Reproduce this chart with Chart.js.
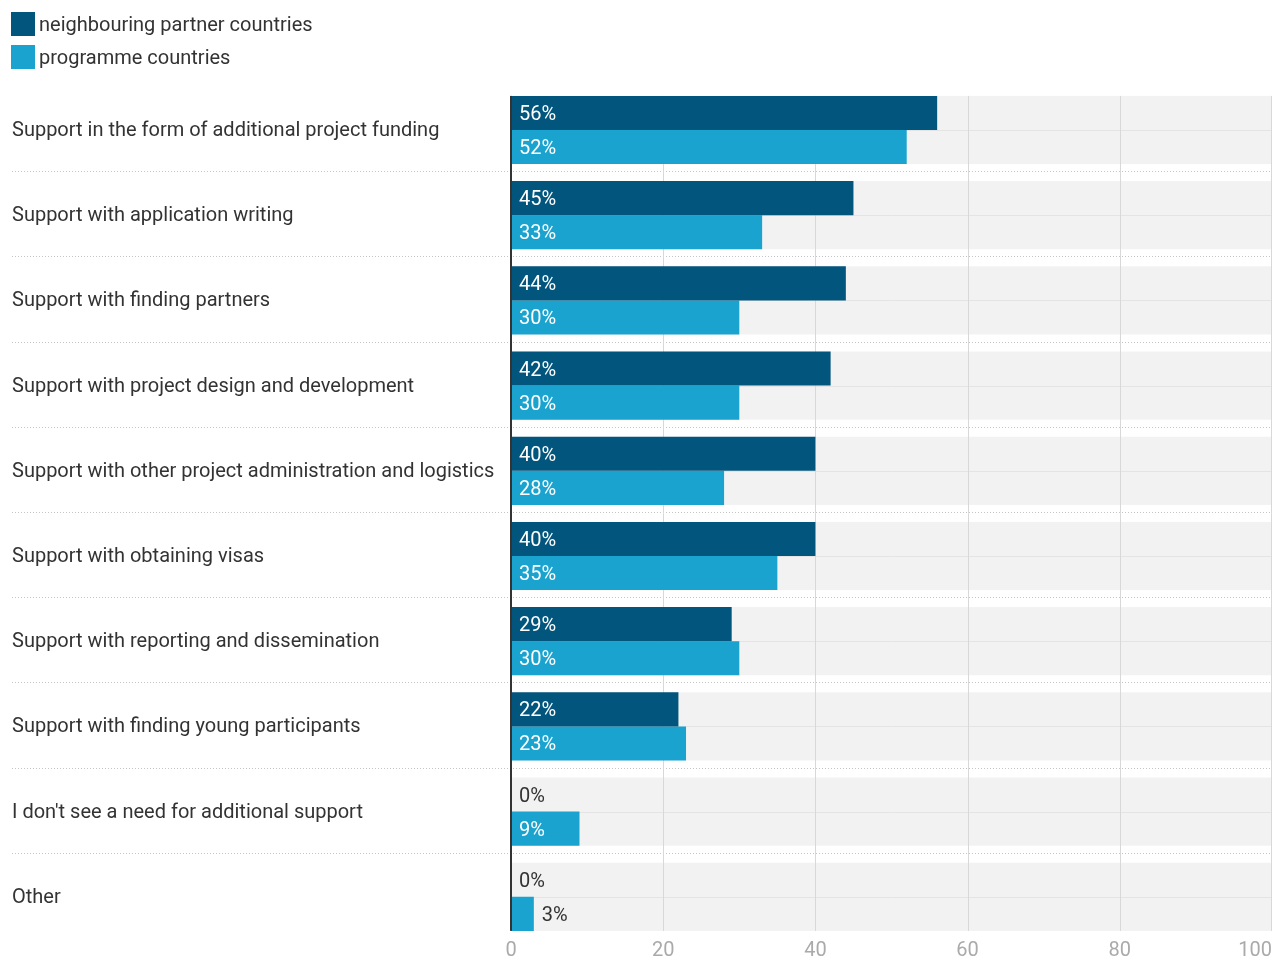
<!DOCTYPE html>
<html>
<head>
<meta charset="utf-8">
<script src="https://cdn.jsdelivr.net/npm/chart.js@4/dist/chart.umd.min.js"></script>
<style>
  html, body { margin: 0; padding: 0; background: #fff; }
  #wrap { width: 1272px; height: 958px; position: relative; }
</style>
</head>
<body>
<div id="wrap"><canvas id="chart" width="1272" height="958"></canvas></div>
<script>
// Survey answers: share of respondents (%) wanting each kind of support
const categories = [
  'Support in the form of additional project funding',
  'Support with application writing',
  'Support with finding partners',
  'Support with project design and development',
  'Support with other project administration and logistics',
  'Support with obtaining visas',
  'Support with reporting and dissemination',
  'Support with finding young participants',
  "I don't see a need for additional support",
  'Other'
];
const neighbouring = [56, 45, 44, 42, 40, 40, 29, 22, 0, 0];
const programme    = [52, 33, 30, 30, 28, 35, 30, 23, 9, 3];
const seriesNames  = ['neighbouring partner countries', 'programme countries'];
const xTicks       = [0, 20, 40, 60, 80, 100];

const DARK = '#02557c';
const LIGHT = '#1aa3cf';
const TEXT = '#333333';
const FONT_FAMILY = 'Roboto, "Noto Sans", sans-serif';
const font = (size) => size + 'px ' + FONT_FAMILY;

// Row bands, separators, grid, axis line, value labels, x tick labels and legend
const decor = {
  id: 'decor',
  beforeDatasetsDraw(chart) {
    const { ctx, chartArea: a } = chart;
    const x = chart.scales.x;
    const m0 = chart.getDatasetMeta(0).data;
    const m1 = chart.getDatasetMeta(1).data;
    const bands = m0.map((b, i) => ({
      top: b.y - b.height / 2,
      mid: b.y + b.height / 2,
      bot: m1[i].y + m1[i].height / 2
    }));
    ctx.save();
    // grey row bands
    ctx.fillStyle = '#f2f2f2';
    bands.forEach(r => ctx.fillRect(a.left, r.top, a.right - a.left, r.bot - r.top));
    // thin line between the two series in each row
    ctx.strokeStyle = '#e4e4e4';
    ctx.lineWidth = 1;
    bands.forEach(r => {
      const y = Math.round(r.mid) + 0.5;
      ctx.beginPath(); ctx.moveTo(a.left, y); ctx.lineTo(a.right, y); ctx.stroke();
    });
    // dotted separators between rows
    ctx.strokeStyle = '#c6c6c6';
    ctx.setLineDash([1, 2]);
    for (let i = 1; i < bands.length; i++) {
      const y = Math.floor((bands[i - 1].bot + bands[i].top) / 2) - 0.5;
      ctx.beginPath(); ctx.moveTo(12, y); ctx.lineTo(a.right, y); ctx.stroke();
    }
    ctx.setLineDash([]);
    // vertical grid lines
    ctx.strokeStyle = '#d8d8d8';
    const gTop = bands[0].top, gBot = bands[bands.length - 1].bot;
    xTicks.slice(1).forEach(v => {
      const px = Math.min(Math.round(x.getPixelForValue(v)) + 0.5, a.right - 0.5);
      ctx.beginPath(); ctx.moveTo(px, gTop); ctx.lineTo(px, gBot); ctx.stroke();
    });
    ctx.restore();
  },
  afterDatasetsDraw(chart) {
    const { ctx, chartArea: a } = chart;
    const x = chart.scales.x;
    const m0 = chart.getDatasetMeta(0).data;
    const m1 = chart.getDatasetMeta(1).data;
    const gTop = m0[0].y - m0[0].height / 2;
    const last = m1[m1.length - 1];
    const gBot = last.y + last.height / 2;
    ctx.save();
    // zero axis line
    ctx.fillStyle = TEXT;
    ctx.fillRect(a.left - 1, gTop, 2, gBot - gTop);

    // value labels
    ctx.font = font(20);
    ctx.textBaseline = 'middle';
    ctx.textAlign = 'left';
    chart.data.datasets.forEach((ds, d) => {
      chart.getDatasetMeta(d).data.forEach((bar, i) => {
        const v = ds.data[i];
        const txt = v + '%';
        const w = ctx.measureText(txt).width;
        const barW = bar.x - bar.base;
        if (barW >= w + 16) {
          ctx.fillStyle = '#ffffff';
          ctx.fillText(txt, bar.base + 8, bar.y + 2);
        } else {
          ctx.fillStyle = TEXT;
          ctx.fillText(txt, Math.max(bar.x, bar.base) + 8, bar.y + 2);
        }
      });
    });

    // x tick labels
    ctx.fillStyle = '#aaaaaa';
    ctx.font = font(20);
    xTicks.forEach((v, i) => {
      const px = x.getPixelForValue(v);
      if (i === xTicks.length - 1) {
        ctx.textAlign = 'right';
        ctx.fillText(String(v), a.right, 951);
      } else {
        ctx.textAlign = 'center';
        ctx.fillText(String(v), px, 951);
      }
    });

    // legend
    ctx.textAlign = 'left';
    ctx.font = font(20);
    chart.data.datasets.forEach((ds, d) => {
      const top = 12 + d * 33;
      ctx.fillStyle = ds.backgroundColor;
      ctx.fillRect(11, top, 24, 24);
      ctx.fillStyle = TEXT;
      ctx.fillText(ds.label, 39, top + 14);
    });
    ctx.restore();
  }
};

new Chart(document.getElementById('chart'), {
  type: 'bar',
  data: {
    labels: categories,
    datasets: [
      { label: seriesNames[0], data: neighbouring, backgroundColor: DARK },
      { label: seriesNames[1], data: programme, backgroundColor: LIGHT }
    ]
  },
  options: {
    indexAxis: 'y',
    responsive: false,
    animation: false,
    devicePixelRatio: 1,
    layout: { autoPadding: false, padding: { top: 87.4, bottom: 18.6, left: 12, right: 0 } },
    datasets: { bar: { barPercentage: 1, categoryPercentage: 0.8, borderWidth: 0 } },
    plugins: { legend: { display: false }, tooltip: { enabled: false } },
    scales: {
      x: { display: false, min: 0, max: 100, grid: { display: false } },
      y: {
        grid: { display: false },
        border: { display: false },
        ticks: {
          autoSkip: false,
          crossAlign: 'far',
          padding: 0,
          labelOffset: 1,
          color: TEXT,
          font: { family: FONT_FAMILY, size: 20 }
        },
        afterFit(scale) { scale.width = 499; }
      }
    }
  },
  plugins: [decor]
});
</script>
</body>
</html>
